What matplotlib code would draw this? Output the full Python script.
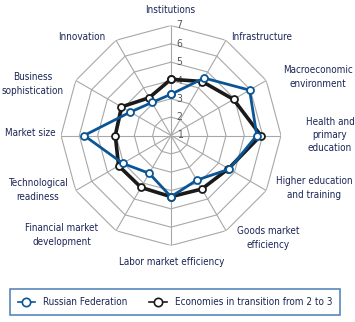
import numpy as np
import matplotlib
matplotlib.use("Agg")
import matplotlib.pyplot as plt
import matplotlib.transforms as mtrans
from matplotlib.lines import Line2D

plt.rcParams['font.family'] = ['DejaVu Sans']
plt.rcParams['font.stretch'] = 'condensed'

pillars = ["Institutions", "Infrastructure", "Macroeconomic\nenvironment",
           "Health and\nprimary\neducation", "Higher education\nand training",
           "Goods market\nefficiency", "Labor market efficiency",
           "Financial market\ndevelopment", "Technological\nreadiness",
           "Market size", "Business\nsophistication", "Innovation"]
russia = [3.25, 4.62, 5.95, 5.68, 4.67, 3.81, 4.34, 3.38, 4.04, 5.74, 3.56, 3.08]
transition = [4.07, 4.40, 4.94, 5.90, 4.62, 4.37, 4.34, 4.27, 4.30, 4.04, 4.12, 3.38]
ring_labels = [1, 2, 3, 4, 5, 6, 7]
series_names = ["Russian Federation", "Economies in transition from 2 to 3"]

# label pixel positions (x, y) in the 355x322 picture
label_pos = [(170, 10), (262, 37), (318, 77), (330, 135), (314, 188), (268, 238),
             (172, 262), (62, 235), (38, 190), (30, 133), (33, 84), (82, 37)]

txt = "#1b2557"
grid_c = "#a8a8a8"
blue = "#0a5596"
dark = "#1a1a1a"
W, H = 355, 322

fig = plt.figure(figsize=(W / 100, H / 100), dpi=100)
cx, cy, rad = 171, 135.5, 110
ax = fig.add_axes([(cx - rad) / W, 1 - (cy + rad) / H, 2 * rad / W, 2 * rad / H], polar=True)

n = len(pillars)
theta = np.pi / 2 - np.arange(n) * 2 * np.pi / n
th_closed = np.append(theta, theta[0])

ax.set_ylim(1, 7)
ax.grid(False)
ax.spines['polar'].set_visible(False)
ax.set_xticks([])
ax.set_yticks([])
ax.patch.set_alpha(0)

for v in ring_labels[1:]:
    ax.plot(th_closed, [v] * (n + 1), color=grid_c, lw=0.8, zorder=1)
for t in theta:
    ax.plot([t, t], [1, 7], color=grid_c, lw=0.8, zorder=1)

off = mtrans.offset_copy(ax.transData, fig=fig, x=4, y=0, units='points')
for v in ring_labels:
    ax.text(np.pi / 2, v, str(v), transform=off, ha='left', va='center',
            fontsize=7.5, color="#555555", zorder=2)

ax.plot(th_closed, russia + russia[:1], color=blue, lw=2, marker='o',
        markersize=5, markerfacecolor='white', markeredgewidth=1.3, zorder=4)
ax.plot(th_closed, transition + transition[:1], color=dark, lw=2.6, marker='o',
        markersize=5, markerfacecolor='white', markeredgewidth=1.3, zorder=3)

for lab, (x, y) in zip(pillars, label_pos):
    fig.text(x / W, 1 - y / H, lab, ha='center', va='center', fontsize=7.1,
             color=txt, linespacing=1.4)

handles = [Line2D([], [], color=c, lw=1.2, marker='o', markersize=6,
                  markerfacecolor='white', markeredgewidth=1.2) for c in (blue, dark)]
leg = fig.legend(handles, series_names, loc='center',
                 bbox_to_anchor=(175 / W, 1 - 302 / H), ncol=2,
                 frameon=True, fancybox=False, fontsize=7.1, handlelength=1.8,
                 columnspacing=2.2, borderpad=0.8, borderaxespad=0)
leg.get_frame().set_edgecolor("#2e6aa8")
leg.get_frame().set_linewidth(1.2)
for t in leg.get_texts():
    t.set_color(txt)

fig.savefig("out.png", dpi=100)
